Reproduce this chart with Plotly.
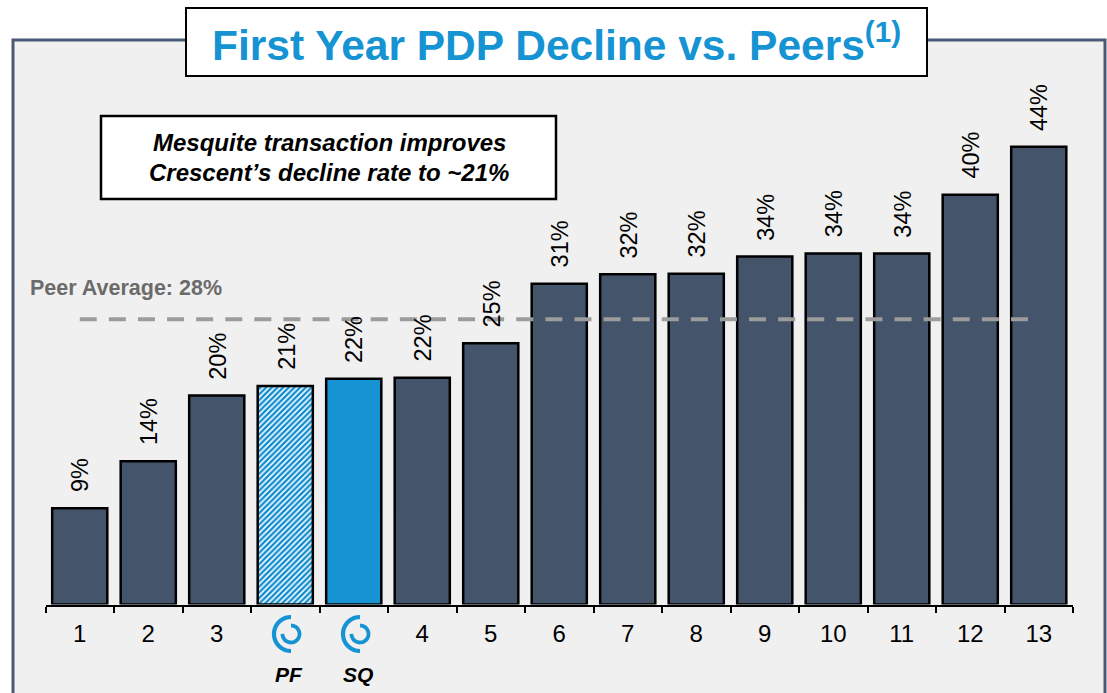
import math
import plotly.graph_objects as go

W, H = 1107, 693

categories = ["1", "2", "3", "PF", "SQ", "4", "5", "6", "7", "8", "9", "10", "11", "12", "13"]
number_ticks = [0, 1, 2, 5, 6, 7, 8, 9, 10, 11, 12, 13, 14]
number_labels = ["1", "2", "3", "4", "5", "6", "7", "8", "9", "10", "11", "12", "13"]
values = [9.2, 13.7, 20.0, 20.9, 21.6, 21.7, 25.0, 30.7, 31.6, 31.65, 33.3, 33.6, 33.6, 39.2, 43.8]
value_labels = ["9%", "14%", "20%", "21%", "22%", "22%", "25%", "31%", "32%", "32%", "34%", "34%", "34%", "40%", "44%"]
peer_average_line = [27.3, 27.3]
peer_line_x = [0, 14]
hatched = "PF"
highlighted = "SQ"

NAVY = "#44546A"
BLUE = "#1593D3"
FONT = "Liberation Sans"


def px(x):
    return x / W


def py(y):
    return 1 - y / H


def rect(x0, y0, x1, y1, fill, line, width):
    return dict(type="rect", xref="paper", yref="paper", x0=px(x0), y0=py(y0), x1=px(x1), y1=py(y1),
                fillcolor=fill, line=dict(color=line, width=width), layer="below")


def arc(cx, cy, r, a0, a1, width):
    n = 40
    pts = []
    for i in range(n + 1):
        a = math.radians(a0 + (a1 - a0) * i / n)
        pts.append((px(cx + r * math.cos(a)), py(cy - r * math.sin(a))))
    path = "M" + " L".join(f"{a:.5f},{b:.5f}" for a, b in pts)
    return dict(type="path", xref="paper", yref="paper", path=path,
                line=dict(color=BLUE, width=width), layer="above")


solid = [(c, v) for c, v in zip(categories, values) if c != hatched]
fig = go.Figure()
fig.add_bar(
    x=[c for c, _ in solid], y=[v for _, v in solid],
    marker=dict(color=[BLUE if c == highlighted else NAVY for c, _ in solid],
                line=dict(color="#000000", width=2.5)),
    width=0.805,
)
fig.add_bar(
    x=[hatched], y=[values[categories.index(hatched)]],
    marker=dict(color="#FFFFFF", line=dict(color="#000000", width=2.5),
                pattern=dict(shape="/", fgcolor="#0F8CD0", bgcolor="#FFFFFF", fgopacity=1,
                             size=4, solidity=0.6, fillmode="replace")),
    width=0.805,
)
fig.add_scatter(
    x=peer_line_x, y=peer_average_line, mode="lines", xaxis="x2", yaxis="y",
    line=dict(color="#9C9C9C", width=4, dash="17px,12.1px"),
)

annotations = [
    dict(x=i, y=v, xref="x", yref="y", text=t, textangle=-90, showarrow=False, xshift=1,
         xanchor="center", yanchor="bottom", yshift=14, font=dict(family=FONT, size=23.5, color="#000000"))
    for i, (v, t) in enumerate(zip(values, value_labels))
]
annotations += [
    dict(x=px(556), y=py(42), xref="paper", yref="paper", showarrow=False, xanchor="center", yanchor="middle",
         text="<b>First Year PDP Decline vs. Peers<sup>(1)</sup></b>",
         font=dict(family=FONT, size=42.5, color=BLUE)),
    dict(x=px(329), y=py(143), xref="paper", yref="paper", showarrow=False, xanchor="center", yanchor="middle",
         text="<b><i>Mesquite transaction improves</i></b>",
         font=dict(family=FONT, size=24, color="#000000")),
    dict(x=px(329), y=py(172), xref="paper", yref="paper", showarrow=False, xanchor="center", yanchor="middle",
         text="<b><i>Crescent’s decline rate to ~21%</i></b>",
         font=dict(family=FONT, size=24, color="#000000")),
    dict(x=px(28), y=py(288), xref="paper", yref="paper", showarrow=False, xanchor="left", yanchor="middle",
         text="<b>Peer Average: 28%</b>", font=dict(family=FONT, size=21.5, color="#6B6B6B")),
    dict(x=3, y=py(674), xref="x", yref="paper", showarrow=False, xanchor="center", yanchor="middle", xshift=4,
         text="<b><i>PF</i></b>", font=dict(family=FONT, size=21, color="#000000")),
    dict(x=4, y=py(674), xref="x", yref="paper", showarrow=False, xanchor="center", yanchor="middle", xshift=4,
         text="<b><i>SQ</i></b>", font=dict(family=FONT, size=21, color="#000000")),
]

shapes = [
    rect(13, 40, 1105, 705, "#F0F0F0", "#4A5A76", 3),
    rect(186, 8, 927, 76, "#FFFFFF", "#000000", 2),
    rect(101, 116, 556, 199, "#FFFFFF", "#000000", 2.5),
]
for cx in (291, 360):
    shapes.append(arc(cx, 634, 17, 90, 270, 4.2))
    shapes.append(arc(cx, 634, 8.5, 90, -180, 3.8))

fig.update_layout(
    width=W, height=H, showlegend=False, autosize=False, barmode="overlay",
    margin=dict(l=0, r=0, t=0, b=0),
    paper_bgcolor="#FFFFFF", plot_bgcolor="rgba(0,0,0,0)",
    annotations=annotations, shapes=shapes,
    xaxis=dict(
        domain=[px(45.5), px(1073)], type="category", categoryorder="array", categoryarray=categories,
        tickmode="array", tickvals=categories, tickson="boundaries", showticklabels=False,
        ticks="outside", ticklen=6, tickwidth=2, tickcolor="#000000",
        showline=True, linecolor="#000000", linewidth=2, showgrid=False, zeroline=False, automargin=False,
    ),
    xaxis2=dict(
        domain=[px(45.5), px(1073)], type="linear", range=[-0.5, 14.5], overlaying="x", anchor="y", side="bottom",
        tickmode="array", tickvals=number_ticks, ticktext=number_labels, ticks="",
        showline=False, showgrid=False, zeroline=False, automargin=False, ticklabelstandoff=12,
        tickfont=dict(family=FONT, size=24, color="#000000"),
    ),
    yaxis=dict(domain=[py(604.5), py(82)], range=[0, 50], visible=False, showgrid=False, zeroline=False),
)

fig.write_html("out.html", config=dict(displayModeBar=False),
               post_script="document.body.style.margin='0';document.body.style.overflow='hidden';")
